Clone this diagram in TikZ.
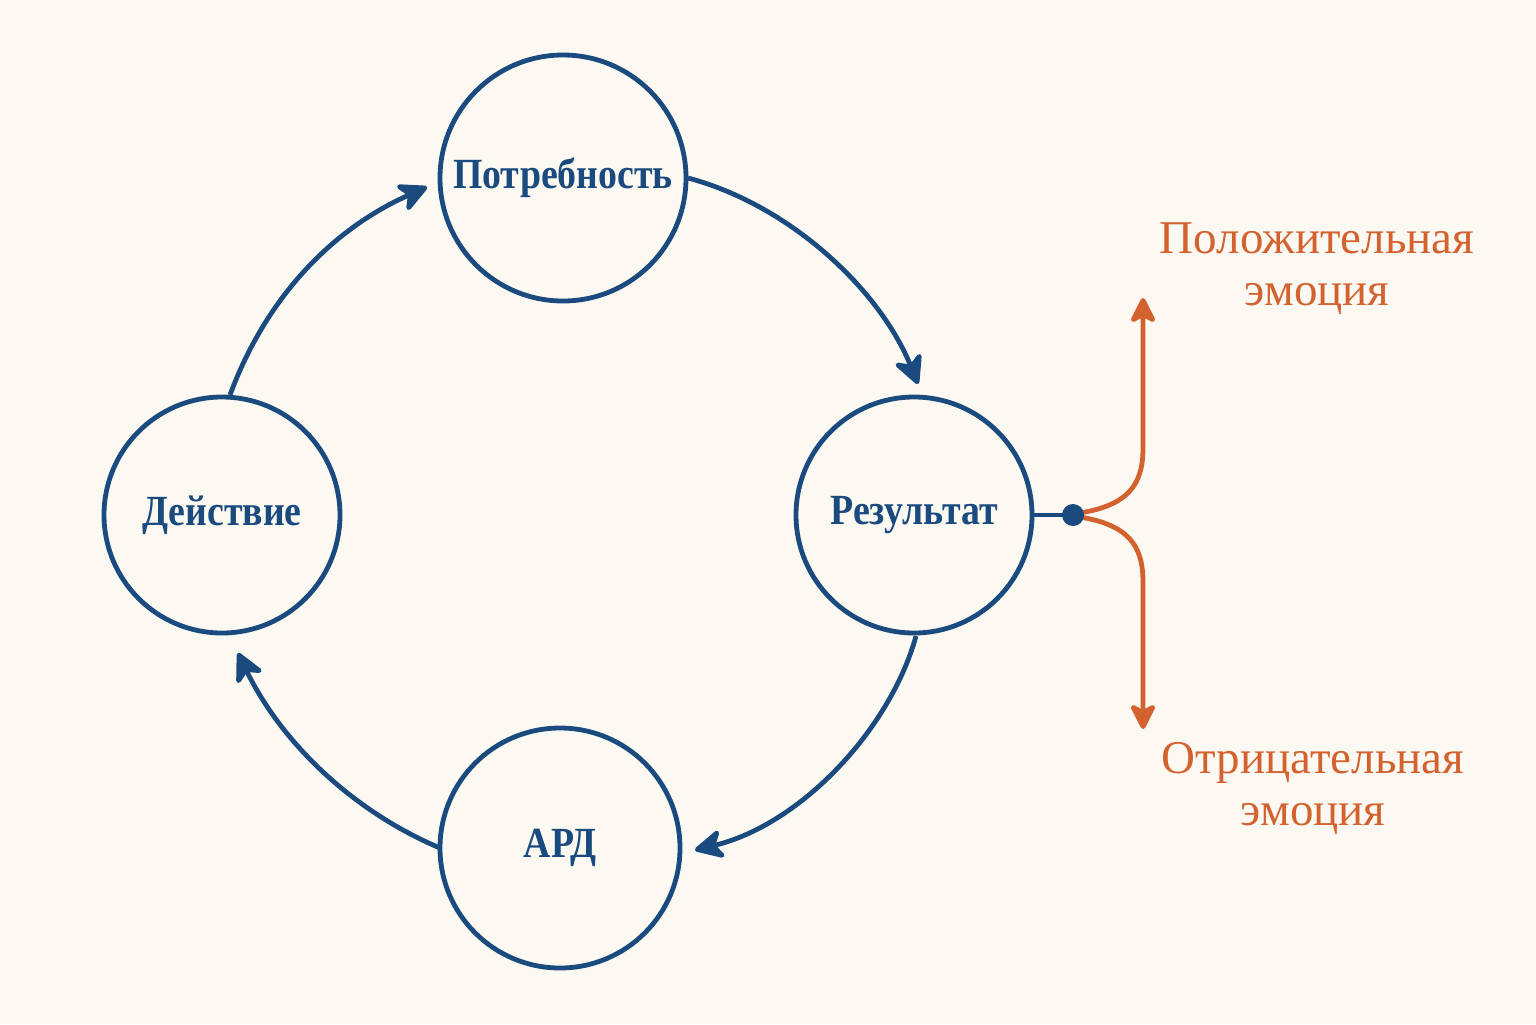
\documentclass[tikz,border=0pt]{standalone}
\usepackage{fontspec}
\setmainfont{Liberation Serif}
\newfontfamily\stagefont[FakeStretch=0.88]{Liberation Serif}
\usetikzlibrary{arrows.meta}
\definecolor{bg}{HTML}{FCF9F3}
\definecolor{navy}{HTML}{1A4A7E}
\definecolor{rust}{HTML}{D4622F}
\tikzset{
  stage/.style={circle,draw=navy,line width=2.4pt,text=navy,font=\stagefont\bfseries\fontsize{21.5}{24}\selectfont,inner sep=0pt},
  cyc/.style={draw=navy,line width=2.4pt,-{Stealth[length=17pt,width=17pt,inset=5pt,round]}},
  emo/.style={draw=rust,line width=2.4pt,-{Stealth[length=15pt,width=15pt,inset=4pt,round]}},
  emolabel/.style={text=rust,font=\fontsize{23.5}{26}\selectfont,align=center}
}
\begin{document}
\begin{tikzpicture}[x=0.5pt,y=-0.5pt]
\fill[bg] (0,0) rectangle (1536,1024);
\useasboundingbox (0,0) rectangle (1536,1024);
\node[stage,minimum size=123pt] (need) at (563,178) {Потребность};
\node[stage,minimum size=118pt] (res) at (914,515) {Результат};
\node[stage,minimum size=118pt] (act) at (222,515) {Действие};
\node[stage,minimum size=120pt] (ard) at (560,848) {АРД};
\coordinate (a1s) at (230,395);
\coordinate (a1e) at (427,187);
\coordinate (a2s) at (688,178);
\coordinate (a2e) at (918,384);
\coordinate (a3s) at (916,636);
\coordinate (a3e) at (695,850);
\coordinate (a4s) at (440,848);
\coordinate (a4e) at (238,653);
\draw[cyc] (a1s) .. controls (265,300) and (330,230) .. (a1e);
\draw[cyc] (a2s) .. controls (790,205) and (880,290) .. (a2e);
\draw[cyc] (a3s) .. controls (890,730) and (800,825) .. (a3e);
\draw[cyc] (a4s) .. controls (350,810) and (280,740) .. (a4e);
\coordinate (dot) at (1073,515);
\draw[navy,line width=2.4pt] (res.east) -- (dot);
\coordinate (up) at (1143,298);
\coordinate (down) at (1143,729);
\draw[emo] (1080,513) .. controls (1128,505) and (1143,485) .. (1143,448) -- (up);
\draw[emo] (1080,517) .. controls (1128,525) and (1143,545) .. (1143,582) -- (down);
\fill[navy] (dot) circle (11);
\node[emolabel] (pos) at (1317,269) {Положительная\\эмоция};
\node[emolabel] (neg) at (1313,788) {Отрицательная\\эмоция};
\end{tikzpicture}
\end{document}
